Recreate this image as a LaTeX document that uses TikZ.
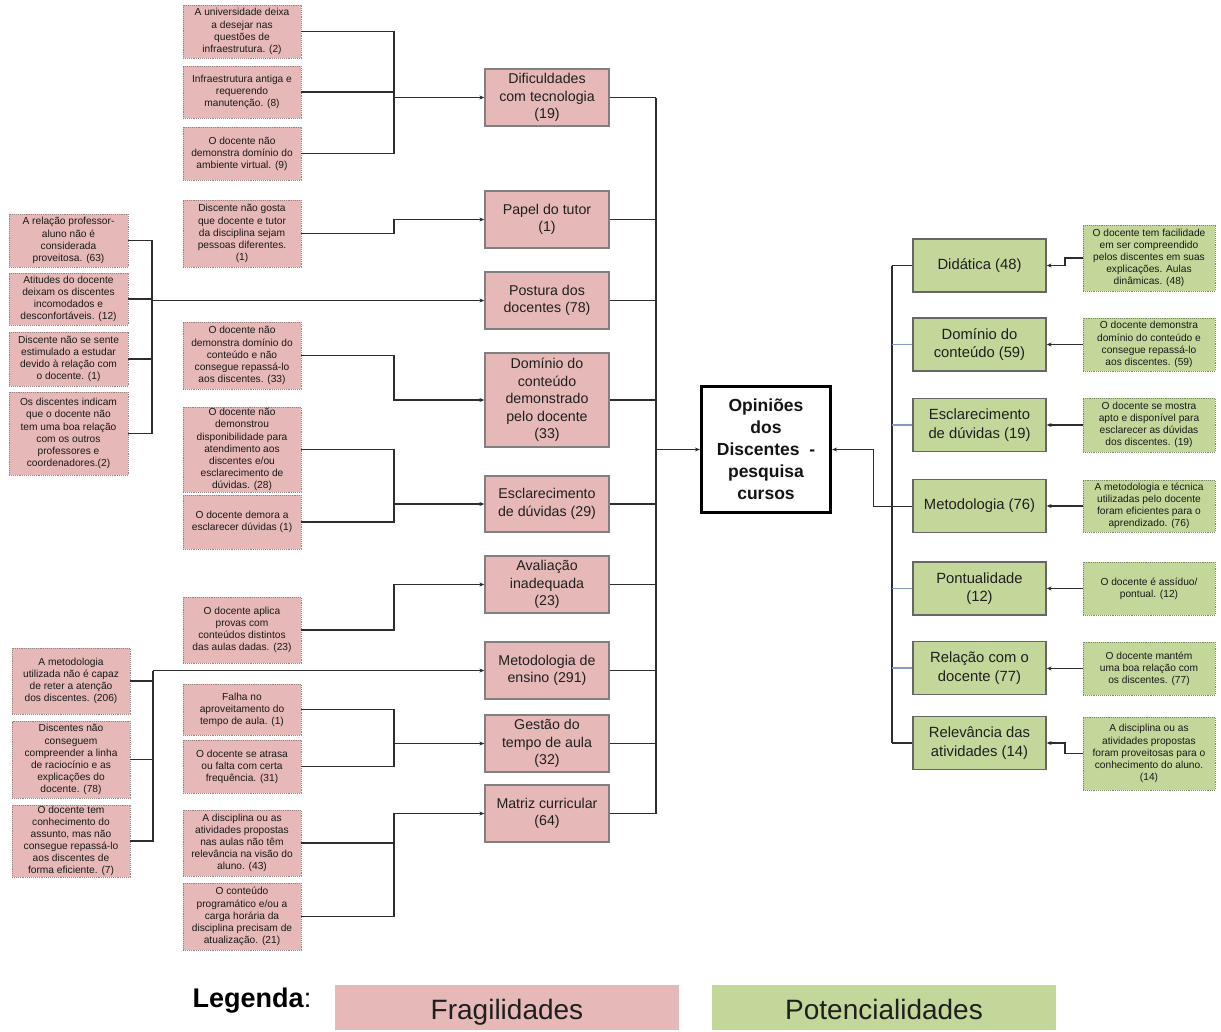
\documentclass[tikz,border=0pt]{standalone}
\usepackage{fontspec}
\setmainfont{Liberation Sans}
\usetikzlibrary{arrows.meta}
\definecolor{pinkf}{RGB}{230,185,184}
\definecolor{greenf}{RGB}{196,215,155}
\definecolor{lin}{RGB}{45,45,45}
\definecolor{bluel}{RGB}{130,155,190}
\definecolor{pinkb}{RGB}{150,130,130}
\definecolor{greenb}{RGB}{120,135,100}
\tikzset{
  smallp/.style={draw=pinkb,densely dotted,line width=0.9pt,fill=pinkf,align=center,inner sep=0pt,
     font=\fontsize{10.2}{12.1}\selectfont,text=black!90},
  smallg/.style={draw=greenb,densely dotted,line width=0.9pt,fill=greenf,align=center,inner sep=0pt,
     font=\fontsize{10.2}{12.1}\selectfont,text=black!90},
  midp/.style={draw=black!50,line width=1.3pt,fill=pinkf,align=center,inner sep=0pt,
     minimum width=124pt,minimum height=57pt,font=\fontsize{14.2}{17.6}\selectfont,text=black!88},
  midg/.style={draw=black!60,line width=1.3pt,fill=greenf,align=center,inner sep=0pt,
     minimum width=133pt,minimum height=53pt,font=\fontsize{14.8}{18.5}\selectfont,text=black!88},
  legbox/.style={minimum width=344pt,minimum height=45pt,inner sep=0pt,text height=28pt,text depth=4pt,
     font=\fontsize{28}{32}\selectfont,text=black!88},
  conn/.style={draw=lin,line width=1.2pt},
  arr/.style={conn,-{Stealth[length=5pt,width=4pt]}},
  connb/.style={draw=bluel,line width=1.2pt},
}
\begin{document}
\begin{tikzpicture}[x=1pt,y=-1pt]
\fill[white] (0,0) rectangle (1221,1031);
\useasboundingbox (0,0) rectangle (1221,1031);

\coordinate (jx) at (394,0);
\coordinate (lb) at (152,0);
\coordinate (lb2) at (153,0);
\coordinate (rb) at (656,0);
\coordinate (gx) at (892,0);
\coordinate (mx) at (873,0);
\coordinate (gx2) at (1065,0);

% column A small boxes
\node[smallp,minimum width=118pt,minimum height=53pt] (s1) at (242,31.5) {A universidade deixa\\a desejar nas\\questões de\\infraestrutura. (2)};
\node[smallp,minimum width=118pt,minimum height=52pt] (s2) at (242,92) {Infraestrutura antiga e\\requerendo\\manutenção. (8)};
\node[smallp,minimum width=118pt,minimum height=53pt] (s3) at (242,153.5) {O docente não\\demonstra domínio do\\ambiente virtual. (9)};
\node[smallp,minimum width=118pt,minimum height=67pt] (s4) at (242,233.5) {Discente não gosta\\que docente e tutor\\da disciplina sejam\\pessoas diferentes.\\(1)};
\node[smallp,minimum width=118pt,minimum height=67pt] (s5) at (242,355.5) {O docente não\\demonstra domínio do\\conteúdo e não\\consegue repassá-lo\\aos discentes. (33)};
\node[smallp,minimum width=118pt,minimum height=85pt] (s6) at (242,449.5) {O docente não\\demonstrou\\disponibilidade para\\atendimento aos\\discentes e/ou\\esclarecimento de\\dúvidas. (28)};
\node[smallp,minimum width=118pt,minimum height=54pt] (s7) at (242,522) {O docente demora a\\esclarecer dúvidas (1)};
\node[smallp,minimum width=118pt,minimum height=66pt] (s8) at (242,630) {O docente aplica\\provas com\\conteúdos distintos\\das aulas dadas. (23)};
\node[smallp,minimum width=118pt,minimum height=51pt] (s9) at (242,709.5) {Falha no\\aproveitamento do\\tempo de aula. (1)};
\node[smallp,minimum width=118pt,minimum height=53pt] (s10) at (242,766.5) {O docente se atrasa\\ou falta com certa\\frequência. (31)};
\node[smallp,minimum width=118pt,minimum height=66pt] (s11) at (242,843) {A disciplina ou as\\atividades propostas\\nas aulas não têm\\relevância na visão do\\aluno. (43)};
\node[smallp,minimum width=118pt,minimum height=67pt] (s12) at (242,916.5) {O conteúdo\\programático e/ou a\\carga horária da\\disciplina precisam de\\atualização. (21)};

% column B small boxes
\node[smallp,minimum width=119pt,minimum height=53pt] (a) at (68.5,240.5) {A relação professor-\\aluno não é\\considerada\\proveitosa. (63)};
\node[smallp,minimum width=119pt,minimum height=52pt] (b) at (68.5,299) {Atitudes do docente\\deixam os discentes\\incomodados e\\desconfortáveis. (12)};
\node[smallp,minimum width=119pt,minimum height=54pt] (c) at (68.5,359) {Discente não se sente\\estimulado a estudar\\devido à relação com\\o docente. (1)};
\node[smallp,minimum width=119pt,minimum height=83pt] (d) at (68.5,433.5) {Os discentes indicam\\que o docente não\\tem uma boa relação\\com os outros\\professores e\\coordenadores.(2)};
\node[smallp,minimum width=118pt,minimum height=66pt] (e) at (71,681) {A metodologia\\utilizada não é capaz\\de reter a atenção\\dos discentes. (206)};
\node[smallp,minimum width=118pt,minimum height=77pt] (f) at (71,759.5) {Discentes não\\conseguem\\compreender a linha\\de raciocínio e as\\explicações do\\docente. (78)};
\node[smallp,minimum width=118pt,minimum height=72pt] (g) at (71,841) {O docente tem\\conhecimento do\\assunto, mas não\\consegue repassá-lo\\aos discentes de\\forma eficiente. (7)};

% middle boxes
\node[midp] (dif) at (547,97.5) {Dificuldades\\com tecnologia\\(19)};
\node[midp] (pap) at (547,219.5) {Papel do tutor\\(1)};
\node[midp] (pos) at (547,300.5) {Postura dos\\docentes (78)};
\node[midp,minimum height=94pt] (dom) at (547,400) {Domínio do\\conteúdo\\demonstrado\\pelo docente\\(33)};
\node[midp,minimum height=56pt] (esc) at (547,504) {Esclarecimento\\de dúvidas (29)};
\node[midp] (ava) at (547,584.5) {Avaliação\\inadequada\\(23)};
\node[midp] (met) at (547,670.5) {Metodologia de\\ensino (291)};
\node[midp] (ges) at (547,743.5) {Gestão do\\tempo de aula\\(32)};
\node[midp] (mat) at (547,813.5) {Matriz curricular\\(64)};

% central
\node[draw=black,line width=3.2pt,fill=white,align=center,inner sep=0pt,minimum width=129pt,minimum height=126pt,
  font=\bfseries\fontsize{17.5}{22}\selectfont,text=black!92] (cen) at (766,449.5) {Opiniões\\dos\\Discentes~ -\\pesquisa\\cursos};

% green main boxes
\node[midg] (gdid) at (979.5,265.5) {Didática (48)};
\node[midg] (gdom) at (979.5,344.5) {Domínio do\\conteúdo (59)};
\node[midg] (gesc) at (979.5,425) {Esclarecimento\\de dúvidas (19)};
\node[midg] (gmet) at (979.5,506) {Metodologia (76)};
\node[midg] (gpon) at (979.5,588.5) {Pontualidade\\(12)};
\node[midg] (grel) at (979.5,668) {Relação com o\\docente (77)};
\node[midg] (grlv) at (979.5,743) {Relevância das\\atividades (14)};

% green small boxes
\node[smallg,minimum width=132pt,minimum height=66pt] (h1) at (1149,258) {O docente tem facilidade\\em ser compreendido\\pelos discentes em suas\\explicações. Aulas\\dinâmicas. (48)};
\node[smallg,minimum width=132pt,minimum height=53pt] (h2) at (1149,344.5) {O docente demonstra\\domínio do conteúdo e\\consegue repassá-lo\\aos discentes. (59)};
\node[smallg,minimum width=132pt,minimum height=54pt] (h3) at (1149,425) {O docente se mostra\\apto e disponível para\\esclarecer as dúvidas\\dos discentes. (19)};
\node[smallg,minimum width=132pt,minimum height=52pt] (h4) at (1149,506) {A metodologia e técnica\\utilizadas pelo docente\\foram eficientes para o\\aprendizado. (76)};
\node[smallg,minimum width=132pt,minimum height=53pt] (h5) at (1149,588.5) {O docente é assíduo/\\pontual. (12)};
\node[smallg,minimum width=132pt,minimum height=53pt] (h6) at (1149,668.5) {O docente mantém\\uma boa relação com\\os discentes. (77)};
\node[smallg,minimum width=132pt,minimum height=73pt] (h7) at (1149,753.5) {A disciplina ou as\\atividades propostas\\foram proveitosas para o\\conhecimento do aluno.\\(14)};

% legend
\node[font=\fontsize{27}{30}\selectfont,anchor=center] (leg) at (252,1001) {\textbf{Legenda}:};
\node[legbox,fill=pinkf] (lf) at (507,1007.5) {Fragilidades};
\node[legbox,fill=greenf] (lp) at (884,1007.5) {Potencialidades};

% connectors: Dificuldades
\draw[conn] (s1.east) -| (jx |- s3.east) -- (s3.east);
\draw[conn] (s2.east) -- (s2.east -| jx);
\draw[arr] (jx |- dif.west) -- (dif.west);
% Papel
\draw[arr] (s4.east) -| (jx |- pap.west) -- (pap.west);
% Postura
\draw[conn] (a.east) -| (lb |- d.east) -- (d.east);
\draw[conn] (b.east) -- (b.east -| lb);
\draw[conn] (c.east) -- (c.east -| lb);
\draw[arr,line width=1.5pt] (lb |- pos.west) -- (pos.west);
% Dominio
\draw[arr] (s5.east) -| (jx |- dom.west) -- (dom.west);
% Esclarecimento
\draw[conn] (s6.east) -| (jx |- s7.east) -- (s7.east);
\draw[arr] (jx |- esc.west) -- (esc.west);
% Avaliacao
\draw[arr] (s8.east) -| (jx |- ava.west) -- (ava.west);
% Metodologia
\draw[conn] (lb2 |- met.west) -- (lb2 |- g.east) -- (g.east);
\draw[conn] (e.east) -- (e.east -| lb2);
\draw[conn] (f.east) -- (f.east -| lb2);
\draw[arr] (lb2 |- met.west) -- (met.west);
% Gestao
\draw[conn] (s9.east) -| (jx |- s10.east) -- (s10.east);
\draw[arr] (jx |- ges.west) -- (ges.west);
% Matriz
\draw[conn] (s11.east) -- (s11.east -| jx);
\draw[arr] (s12.east) -| (jx |- mat.west) -- (mat.west);

% right bus to central
\foreach \n in {dif,pap,pos,dom,esc,ava,met,ges,mat}{\draw[conn] (\n.east) -- (\n.east -| rb);}
\draw[conn] (rb |- dif.east) -- (rb |- mat.east);
\draw[arr] (rb |- cen.west) -- (cen.west);

% green bus
\draw[conn] (gx |- gdid.west) -- (gx |- grlv.west);
\draw[conn] (gdid.west) -- (gdid.west -| gx);
\draw[connb] (gdom.west) -- (gdom.west -| gx);
\draw[connb] (gesc.west) -- (gesc.west -| gx);
\draw[connb] (gpon.west) -- (gpon.west -| gx);
\draw[connb] (grel.west) -- (grel.west -| gx);
\draw[conn] (grlv.west) -- (grlv.west -| gx);
\draw[arr,line width=1pt] (gmet.west) -| (mx |- cen.east) -- (cen.east);

% green small to main
\draw[arr] (h1.west) -| (gx2 |- gdid.east) -- (gdid.east);
\draw[arr] (h2.west) -- (h2.west -| gdom.east);
\draw[arr] (h3.west) -- (h3.west -| gesc.east);
\draw[arr] (h4.west) -- (h4.west -| gmet.east);
\draw[arr] (h5.west) -- (h5.west -| gpon.east);
\draw[arr] (h6.west) -- (h6.west -| grel.east);
\draw[arr] (h7.west) -| (gx2 |- grlv.east) -- (grlv.east);
\end{tikzpicture}
\end{document}
